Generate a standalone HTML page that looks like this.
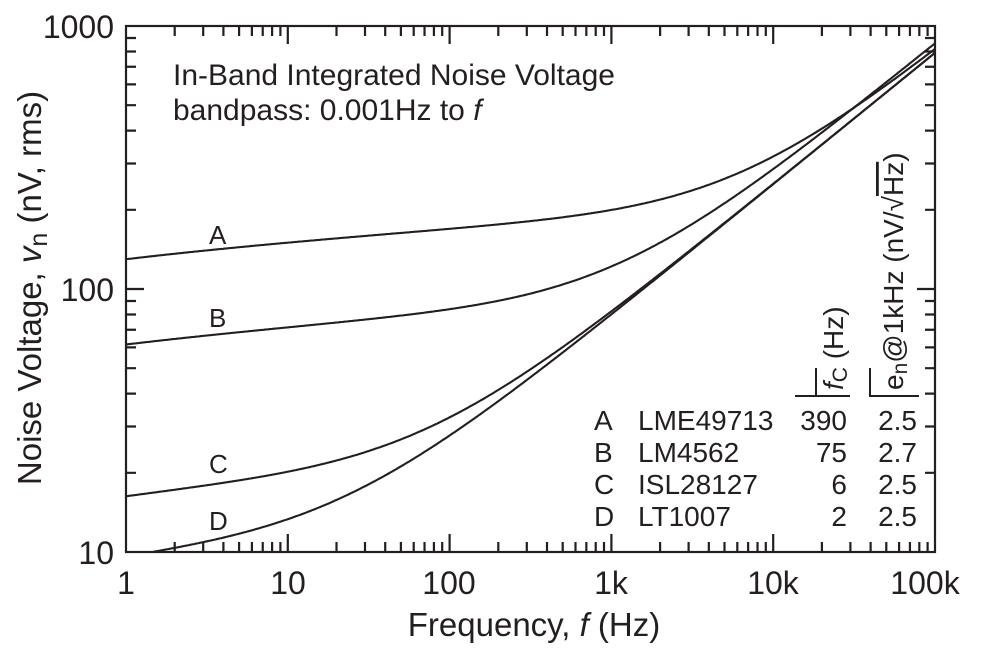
<!DOCTYPE html>
<html><head><meta charset="utf-8"><style>
body{margin:0;background:#fff}
svg{display:block;font-family:"Liberation Sans",Arial,sans-serif;fill:#231f20}
</style></head><body>
<svg id="s" width="987" height="650" viewBox="0 0 987 650" xmlns="http://www.w3.org/2000/svg">
<g id="ax" stroke="#231f20" stroke-width="2.2" fill="none">
<rect x="126" y="26" width="809" height="526"/>
</g>
<g id="curves" stroke="#231f20" stroke-width="2.1" fill="none"></g>
<g font-size="32" text-anchor="end">
<text x="114" y="38">1000</text>
<text x="114" y="301">100</text>
<text x="114" y="564">10</text>
</g>
<g font-size="32" text-anchor="middle">
<text x="126" y="594">1</text>
<text x="288" y="594">10</text>
<text x="449" y="594">100</text>
<text x="611" y="594">1k</text>
<text x="773" y="594">10k</text>
<text x="925" y="594">100k</text>
</g>
<g font-size="33" text-anchor="middle">
<text x="534" y="636">Frequency, <tspan font-style="italic">f</tspan> (Hz)</text>
<text transform="translate(41,288) rotate(-90)">Noise Voltage, <tspan font-style="italic">v</tspan><tspan font-size="25" dy="6">n</tspan><tspan dy="-6">  (nV, rms)</tspan></text>
</g>
<g font-size="30">
<text x="173" y="85">In-Band Integrated Noise Voltage</text>
<text x="173" y="120">bandpass: 0.001Hz to <tspan font-style="italic">f</tspan></text>
</g>
<g font-size="26">
<text x="209" y="244">A</text>
<text x="209" y="327">B</text>
<text x="209" y="473">C</text>
<text x="209" y="530">D</text>
</g>
<g font-size="28">
<text x="594" y="430">A</text><text x="638" y="430">LME49713</text>
<text x="594" y="462">B</text><text x="638" y="462">LM4562</text>
<text x="594" y="494">C</text><text x="638" y="494">ISL28127</text>
<text x="594" y="526">D</text><text x="638" y="526">LT1007</text>
<g text-anchor="end">
<text x="847" y="430">390</text><text x="847" y="462">75</text><text x="847" y="494">6</text><text x="847" y="526">2</text>
<text x="917" y="430">2.5</text><text x="917" y="462">2.7</text><text x="917" y="494">2.5</text><text x="917" y="526">2.5</text>
</g>
</g>
<g stroke="#231f20" stroke-width="2">
<line x1="795" y1="396" x2="850" y2="396"/>
<line x1="869" y1="396" x2="919" y2="396"/>
<line x1="816" y1="396" x2="816" y2="368"/>
<line x1="870" y1="396" x2="870" y2="368"/>
</g>
<g font-size="28">
<text transform="translate(843,390) rotate(-90)"><tspan font-style="italic">f</tspan><tspan font-size="21" dy="4">C</tspan><tspan dy="-4"> (Hz)</tspan></text>
<text transform="translate(903,390) rotate(-90)">e<tspan font-size="21" dy="4">n</tspan><tspan dy="-4">@1kHz  (nV/√</tspan><tspan text-decoration="overline">Hz</tspan>)</text>
</g>
</svg>
<script>
var X0=126,DX=161.8,Y0=552,DY=263;
function px(f){return X0+DX*Math.log10(f)}
function py(v){return Y0-DY*(Math.log10(v)-1)}
var ax=document.getElementById('ax'),d='';
for(var dec=0;dec<5;dec++)for(var m=2;m<=10;m++){var x=px(Math.pow(10,dec)*m);var L=m==10?18:10;
if(m==10&&dec==4)continue;
d+='M'+x+' '+Y0+'v-'+L+'M'+x+' 26v'+L;}
for(var dec=0;dec<2;dec++)for(var m=2;m<=10;m++){var y=py(10*Math.pow(10,dec)*m);var L=m==10?18:10;
if(m==10&&dec==1)continue;
d+='M126 '+y+'h'+L+'M935 '+y+'h-'+L;}
var p=document.createElementNS('http://www.w3.org/2000/svg','path');p.setAttribute('d',d);ax.appendChild(p);
var c=document.getElementById('curves');
[[390,2.5],[75,2.7],[6,2.5],[2,2.5]].forEach(function(s){var dd='';
for(var i=0;i<=500;i++){var f=Math.pow(10,i/100);var v=s[1]*Math.sqrt(s[0]*Math.log(f/0.001)+f);
var y=py(v);if(y>552)continue;dd+=(dd?'L':'M')+px(f).toFixed(1)+' '+y.toFixed(1);}
var q=document.createElementNS('http://www.w3.org/2000/svg','path');q.setAttribute('d',dd);c.appendChild(q);});
</script>
</body></html>
